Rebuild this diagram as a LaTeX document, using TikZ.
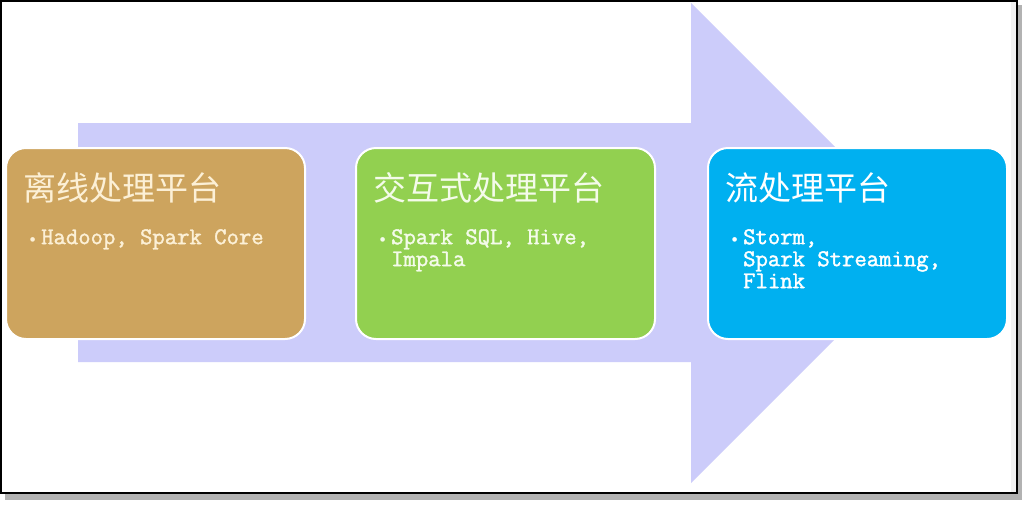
\documentclass[tikz,border=0pt]{standalone}
\usepackage{fontspec}
\newfontfamily\dotfont{Liberation Mono}
\newfontfamily\itemfont[FakeBold=1.6]{Latin Modern Mono}
\newfontfamily\cjk{Noto Sans CJK SC}
\usetikzlibrary{positioning}
\definecolor{arrowlav}{HTML}{CCCCFA}
\definecolor{offtan}{HTML}{CDA45E}
\definecolor{offtext}{HTML}{FCF0D6}
\definecolor{intgreen}{HTML}{92D050}
\definecolor{inttext}{HTML}{F4FBEA}
\definecolor{strblue}{HTML}{00B0F0}
\tikzset{
  platform/.style={draw=white, line width=2pt, rounded corners=20pt, anchor=north west,
    minimum width=299pt, minimum height=191pt, inner sep=0pt},
  heading/.style={anchor=base west, inner sep=0pt, font=\cjk\fontsize{33}{36}\selectfont},
  items/.style={anchor=north west, inner sep=0pt, align=left, font=\itemfont\fontsize{24}{22}\selectfont},
  dot/.style={anchor=base east, inner sep=0pt, font=\dotfont\fontsize{17}{17}\selectfont},
}
\begin{document}
\begin{tikzpicture}[x=1pt,y=-1pt]
  \useasboundingbox (0,0) rectangle (1026,504);
  % frame with shadow
  \fill[black!30] (5,5) rectangle (1022,500);
  \fill[white] (1,1) rectangle (1017,493);
  \fill[black!5] (1011,1) rectangle (1017,493);
  \draw[line width=1.2pt] (1,1) rectangle (1017,493);
  % big arrow
  \fill[arrowlav] (78,123) -- (691,123) -- (691,3) -- (931,243) -- (691,483) -- (691,362) -- (78,362) -- cycle;
  % platforms
  \foreach \name/\x/\col/\txt/\title/\list in {
      off/5/offtan/offtext/离线处理平台/{Hadoop, Spark Core},
      int/355/intgreen/inttext/交互式处理平台/{Spark SQL, Hive,\\Impala},
      str/707/strblue/white/流处理平台/{Storm,\\Spark Streaming,\\Flink}}{
    \node[platform, fill=\col] (\name) at (\x,147) {};
    \node[heading, text=\txt] (\name-title) at ([xshift=18pt, yshift=-53pt]\name.north west) {\title};
    \node[items, text=\txt] (\name-items) at ([xshift=36pt, yshift=-82pt]\name.north west) {\list};
    \node[dot, text=\txt] (\name-dot) at ([xshift=-3pt, yshift=-16pt]\name-items.north west) {•};
  }
\end{tikzpicture}
\end{document}
